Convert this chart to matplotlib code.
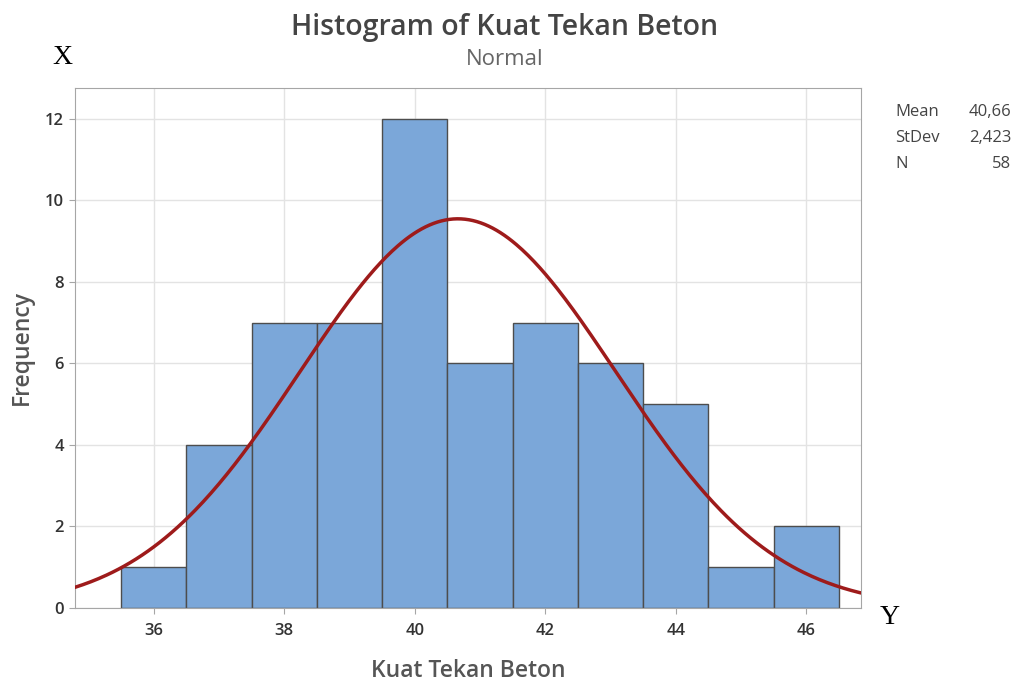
import matplotlib.pyplot as plt
import numpy as np

# histogram data
bin_centers = [36, 37, 38, 39, 40, 41, 42, 43, 44, 45, 46]
counts = [1, 4, 7, 7, 12, 6, 7, 6, 5, 1, 2]
mean, stdev, n = 40.66, 2.423, 58
stat_labels = ['Mean', 'StDev', 'N']
stat_values = ['40,66', '2,423', '58']

plt.rcParams['font.family'] = ['Open Sans', 'DejaVu Sans']

fig = plt.figure(figsize=(10.17, 6.82), dpi=100)
ax = fig.add_axes([0.0737, 0.1085, 0.7729, 0.7625])

ax.bar(bin_centers, counts, width=1.0, color='#7BA7D9', edgecolor='#4d4d4d',
       linewidth=1.0, zorder=2)

# fitted normal curve, scaled to counts (bin width 1)
xs = np.linspace(34.79, 46.84, 400)
pdf = n * 1.0 / (stdev * np.sqrt(2 * np.pi)) * np.exp(-0.5 * ((xs - mean) / stdev) ** 2)
ax.plot(xs, pdf, color='#9E1B1B', linewidth=2.5, zorder=3)

ax.set_xlim(34.79, 46.84)
ax.set_ylim(0, 12.76)
ax.set_xticks([36, 38, 40, 42, 44, 46])
ax.set_yticks([0, 2, 4, 6, 8, 10, 12])
ax.grid(True, color='#e3e3e3', linewidth=1.0, zorder=0)
ax.set_axisbelow(True)
for s in ax.spines.values():
    s.set_color('#a6a6a6')
ax.tick_params(colors='#a6a6a6', labelcolor='#333333', labelsize=12, length=4.5)
ax.tick_params(axis='x', pad=6)
for lab in ax.get_xticklabels() + ax.get_yticklabels():
    lab.set_fontweight('semibold')

ax.set_xlabel('Kuat Tekan Beton', fontsize=16.5, color='#555555', labelpad=15,
              fontweight='semibold')
ax.set_ylabel('Frequency', fontsize=16.5, color='#555555', labelpad=8,
              fontweight='semibold')

fig.text(0.4965, 0.960, 'Histogram of Kuat Tekan Beton', ha='center', va='center',
         fontsize=20.5, color='#444444', fontweight='semibold')
fig.text(0.4965, 0.913, 'Normal', ha='center', va='center', fontsize=16, color='#666666')

for i, (lab, val) in enumerate(zip(stat_labels, stat_values)):
    y = 1 - (112 + i * 26) / 682
    fig.text(895 / 1017, y, lab, ha='left', va='center', fontsize=12, color='#444444')
    fig.text(1011 / 1017, y, val, ha='right', va='center', fontsize=12, color='#444444')

fig.text(62 / 1017, 1 - 57 / 682, 'X', ha='center', va='center', fontsize=20,
         family='Liberation Serif')
fig.text(890 / 1017, 1 - 617 / 682, 'Y', ha='center', va='center', fontsize=20,
         family='Liberation Serif')

fig.savefig('out.png', dpi=100)
